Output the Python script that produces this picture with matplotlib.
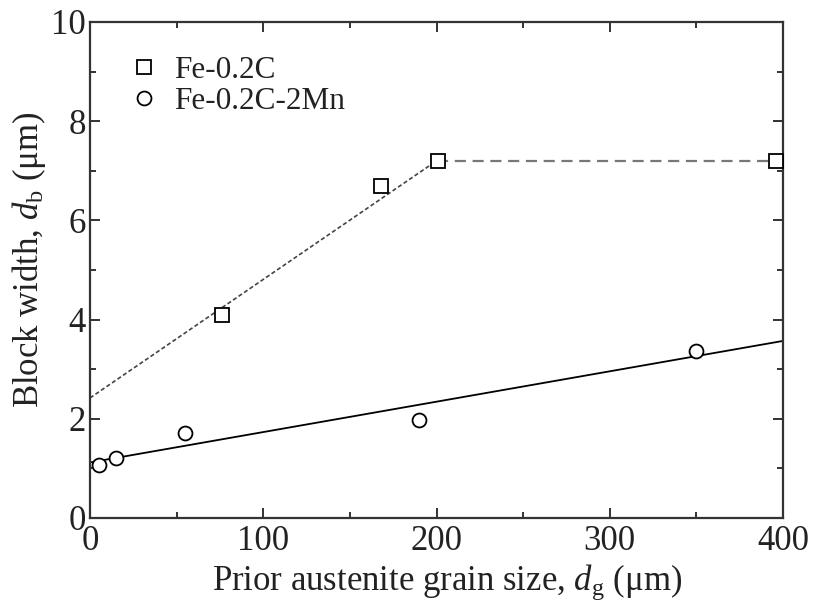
import matplotlib
matplotlib.use("Agg")
import matplotlib.pyplot as plt
from matplotlib.ticker import MultipleLocator

plt.rcParams['font.family'] = ['Liberation Serif', 'DejaVu Serif']
plt.rcParams['mathtext.fontset'] = 'custom'
plt.rcParams['mathtext.rm'] = 'Liberation Serif'
plt.rcParams['mathtext.it'] = 'Liberation Serif:italic'

# Data
c_x = [76, 168, 201, 396]
c_y = [4.1, 6.7, 7.2, 7.2]
mn_x = [5, 15, 55, 190, 350]
mn_y = [1.07, 1.21, 1.71, 1.98, 3.37]
# fitted lines
c_fit1_x = [0, 200]
c_fit1_y = [2.42, 7.2]
c_fit2_x = [200, 400]
c_fit2_y = [7.2, 7.2]
mn_fit_x = [0, 400]
mn_fit_y = [1.12, 3.57]

fig = plt.figure(figsize=(8.14, 6.01), dpi=100)
ax = fig.add_axes([90/814, 1-518/601, 693/814, 496/601])

ax.plot(c_fit1_x, c_fit1_y, color='#444444', lw=1.2, ls=(0, (2.5, 1.5)))
ax.plot(c_fit2_x, c_fit2_y, color='#777777', lw=1.6, ls=(0, (5, 3)))
ax.plot(mn_fit_x, mn_fit_y, color='black', lw=1.3, ls='-')

ax.plot(c_x, c_y, ls='none', marker='s', ms=10.5, mfc='white', mec='black', mew=1.3, label='Fe-0.2C', clip_on=False, zorder=5)
ax.plot(mn_x, mn_y, ls='none', marker='o', ms=10, mfc='white', mec='black', mew=1.3, label='Fe-0.2C-2Mn', clip_on=False, zorder=5)

ax.set_xlim(0, 400)
ax.set_ylim(0, 10)
ax.xaxis.set_major_locator(MultipleLocator(100))
ax.xaxis.set_minor_locator(MultipleLocator(50))
ax.yaxis.set_major_locator(MultipleLocator(2))
ax.yaxis.set_minor_locator(MultipleLocator(1))
ax.tick_params(which='both', direction='in', top=True, right=True, width=1.3, labelsize=25, colors='#222222')
ax.tick_params(which='major', length=7)
ax.tick_params(which='minor', length=4)
ax.tick_params(axis='x', pad=5)
ax.tick_params(axis='y', pad=3)
for s in ax.spines.values():
    s.set_linewidth(1.6)
    s.set_color('#333333')

ax.set_xlabel(r'Prior austenite grain size, $d_\mathrm{g}$ ($\mathrm{\mu m}$)', fontsize=25, color='#222222')
ax.set_ylabel(r'Block width, $d_\mathrm{b}$ ($\mathrm{\mu m}$)', fontsize=25, labelpad=2, color='#222222')
ax.xaxis.set_label_coords(0.515, -0.09, transform=ax.transAxes)
ax.xaxis.label.set_verticalalignment('top')
ax.yaxis.label.set_y(0.52)

leg = ax.legend(loc='upper left', frameon=False, fontsize=22.5, handletextpad=0.35,
                borderaxespad=0.3, labelspacing=0.05, handlelength=1.2, bbox_to_anchor=(0.02, 0.975))
for t in leg.get_texts():
    t.set_color('#222222')

fig.savefig('out.png', dpi=100)
